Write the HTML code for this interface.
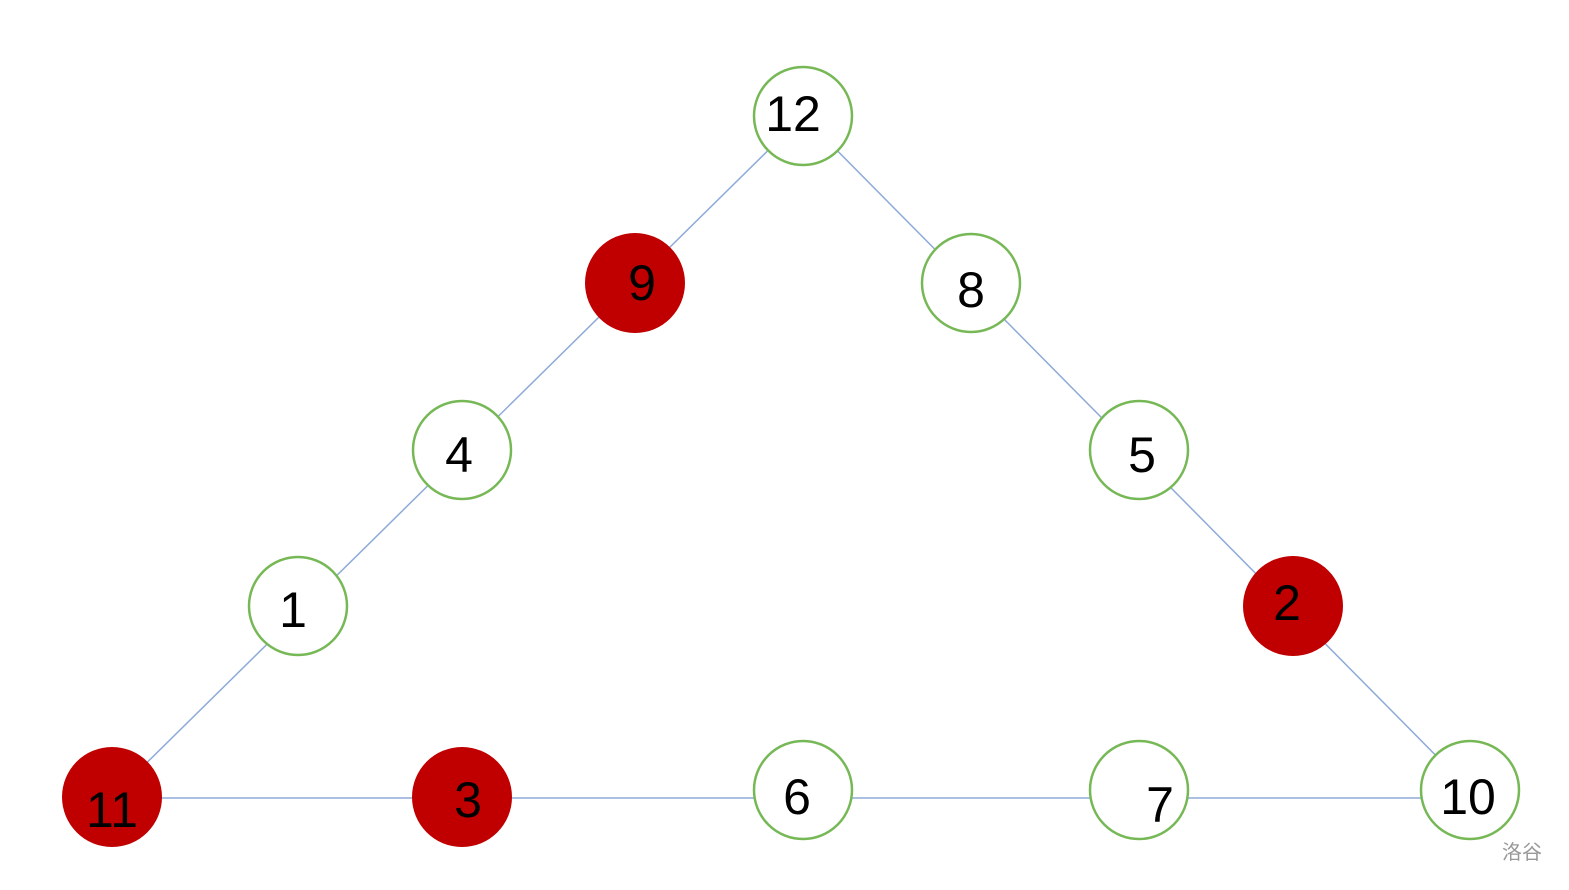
<!DOCTYPE html>
<html><head><meta charset="utf-8"><style>
html,body{margin:0;padding:0;background:#fff;}
svg{display:block}
text{font-family:"Liberation Sans",sans-serif;font-size:50px;fill:#000;text-anchor:middle;dominant-baseline:central;}
</style></head><body>
<svg width="1569" height="890" viewBox="0 0 1569 890">
<g stroke="#8eaad8" stroke-width="1.5">
<line x1="803" y1="116" x2="112" y2="797"/>
<line x1="803" y1="116" x2="1470" y2="790"/>
<line x1="112" y1="798" x2="1470" y2="798"/>
</g>
<g stroke="#77b856" stroke-width="2.5" fill="#fff">
<circle cx="803" cy="116" r="49"/>
<circle cx="971" cy="283" r="49"/>
<circle cx="462" cy="450" r="49"/>
<circle cx="1139" cy="450" r="49"/>
<circle cx="298" cy="606" r="49"/>
<circle cx="803" cy="790" r="49"/>
<circle cx="1139" cy="790" r="49"/>
<circle cx="1470" cy="790" r="49"/>
</g>
<g fill="#c00000">
<circle cx="635" cy="283" r="50"/>
<circle cx="1293" cy="606" r="50"/>
<circle cx="112" cy="797" r="50"/>
<circle cx="462" cy="797" r="50"/>
</g>
<text x="793" y="114">12</text>
<text x="642" y="283">9</text>
<text x="971" y="290">8</text>
<text x="459" y="455">4</text>
<text x="1142" y="455">5</text>
<text x="293" y="610">1</text>
<text x="1287" y="603">2</text>
<text x="112" y="810">11</text>
<text x="468" y="800">3</text>
<text x="797" y="797">6</text>
<text x="1160" y="805" font-size="60">7</text>
<text x="1468" y="797">10</text>
<text x="1522" y="853" style="font-family:'Liberation Sans','Noto Sans CJK SC',sans-serif;font-size:20px;fill:#999">洛谷</text>
</svg>
</body></html>
